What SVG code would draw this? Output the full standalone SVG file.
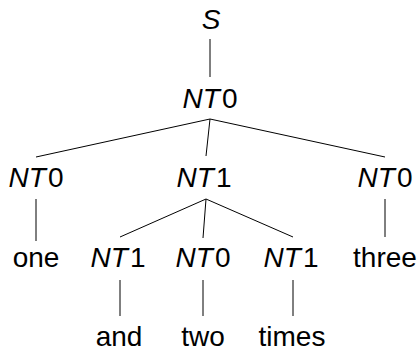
<svg xmlns="http://www.w3.org/2000/svg" width="420" height="351" viewBox="0 0 420 351">
  <style>
    text { font-family: "Liberation Sans", Arial, sans-serif; font-size: 28px; fill: #000; text-anchor: middle; }
    .it { font-style: italic; }
    #edges line { stroke: #000; stroke-width: 1; }
  </style>
  <rect width="420" height="351" fill="#fff"/>
  <g id="edges">
    <line x1="210" y1="39" x2="210" y2="77"/>
    <line x1="210" y1="119" x2="36" y2="157"/>
    <line x1="210" y1="119" x2="206" y2="156"/>
    <line x1="210" y1="119" x2="385" y2="157"/>
    <line x1="36" y1="199" x2="36" y2="241"/>
    <line x1="385" y1="199" x2="385" y2="237"/>
    <line x1="206" y1="199" x2="120" y2="237"/>
    <line x1="206" y1="199" x2="203" y2="238"/>
    <line x1="206" y1="199" x2="293" y2="237"/>
    <line x1="120" y1="280" x2="120" y2="316"/>
    <line x1="203" y1="280" x2="203" y2="316"/>
    <line x1="293" y1="280" x2="293" y2="316"/>
  </g>
  <g id="n-S"><text x="211" y="29" class="it">S</text></g>
  <g id="n-root"><text x="210" y="108"><tspan class="it">NT</tspan><tspan dx="2">0</tspan></text></g>
  <g id="n-left"><text x="36" y="187"><tspan class="it">NT</tspan><tspan dx="2">0</tspan></text></g>
  <g id="n-mid"><text x="204" y="187"><tspan class="it">NT</tspan><tspan dx="2">1</tspan></text></g>
  <g id="n-right"><text x="385" y="187"><tspan class="it">NT</tspan><tspan dx="2">0</tspan></text></g>
  <g id="n-one"><text x="36" y="267">one</text></g>
  <g id="n-mid-a"><text x="118" y="267"><tspan class="it">NT</tspan><tspan dx="2">1</tspan></text></g>
  <g id="n-mid-b"><text x="203" y="267"><tspan class="it">NT</tspan><tspan dx="2">0</tspan></text></g>
  <g id="n-mid-c"><text x="291" y="267"><tspan class="it">NT</tspan><tspan dx="2">1</tspan></text></g>
  <g id="n-three"><text x="385" y="267">three</text></g>
  <g id="n-and"><text x="119" y="346">and</text></g>
  <g id="n-two"><text x="203" y="346">two</text></g>
  <g id="n-times"><text x="292" y="346">times</text></g>
</svg>
